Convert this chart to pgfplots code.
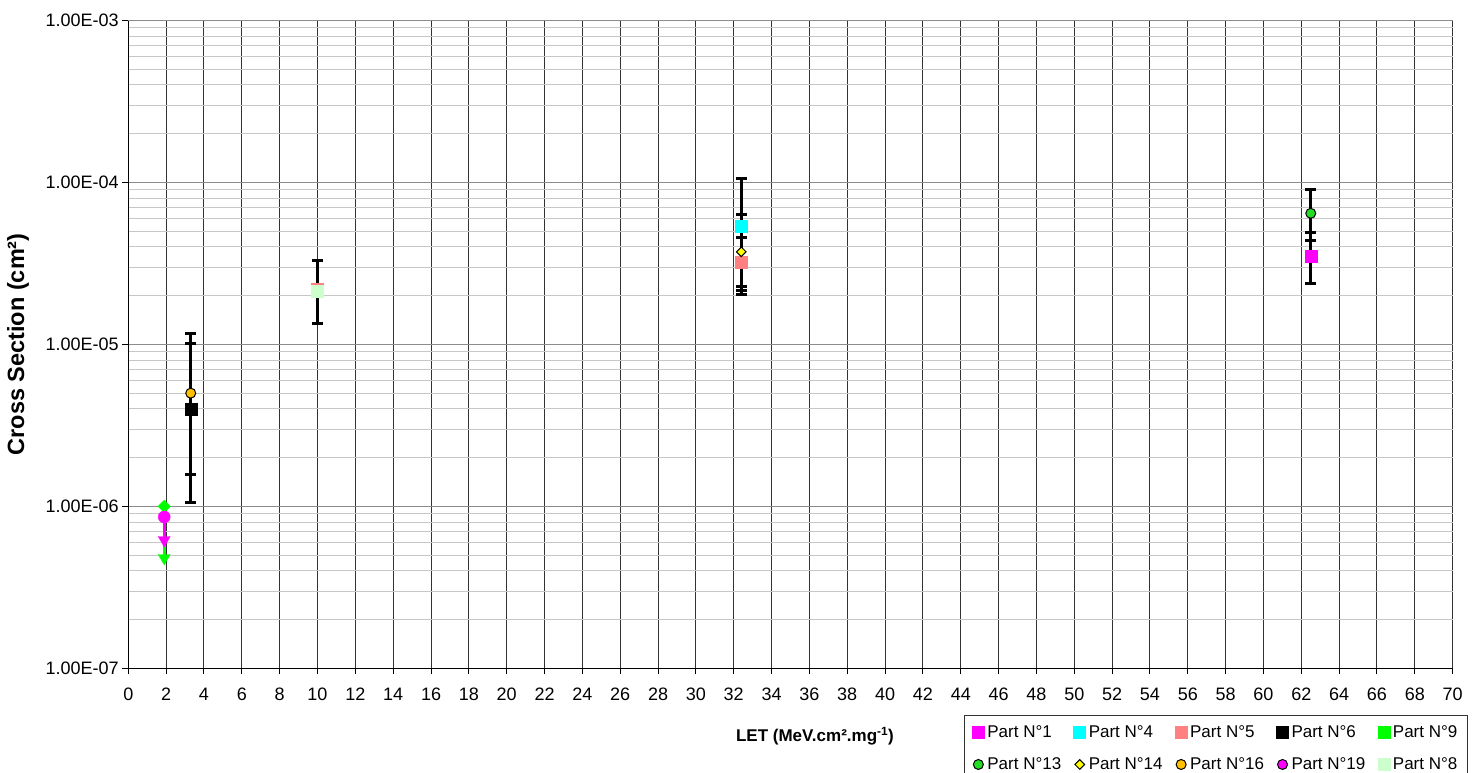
\documentclass[border=0pt]{standalone}
\usepackage{pgfplots}
\pgfplotsset{compat=1.18}
\usepackage{fontspec}
\setmainfont{Liberation Sans}

\definecolor{cmag}{HTML}{FF00FF}
\definecolor{ccyan}{HTML}{00FFFF}
\definecolor{csalmon}{HTML}{FF8080}
\definecolor{cgreen}{HTML}{00FF00}
\definecolor{cgreenb}{HTML}{22DD22}
\definecolor{cyellow}{HTML}{FFFF00}
\definecolor{cgold}{HTML}{FFC000}
\definecolor{cpale}{HTML}{CCFFCC}

\pgfplotsset{
  errbar/.style={black, line width=3pt, mark=-, mark size=5.3pt,
    mark options={line width=3pt, solid}, forget plot},
  pt/.style={only marks, forget plot},
}

\begin{document}
\begin{tikzpicture}
\begin{axis}[
  at={(128.3pt,103.7pt)}, anchor=south west,
  scale only axis, width=1324.4pt, height=647.8pt,
  xmin=0, xmax=70, ymin=1e-7, ymax=1e-3, ymode=log,
  axis x line*=bottom, axis y line*=left,
  axis line style={-, black, line width=1.2pt},
  xtick={0,2,...,70},
  ytick={1e-7,1e-6,1e-5,1e-4,1e-3},
  yticklabels={1.00E-07,1.00E-06,1.00E-05,1.00E-04,1.00E-03},
  minor ytick={2e-7,3e-7,4e-7,5e-7,6e-7,7e-7,8e-7,9e-7,
               2e-6,3e-6,4e-6,5e-6,6e-6,7e-6,8e-6,9e-6,
               2e-5,3e-5,4e-5,5e-5,6e-5,7e-5,8e-5,9e-5,
               2e-4,3e-4,4e-4,5e-4,6e-4,7e-4,8e-4,9e-4},
  xmajorgrids, ymajorgrids, yminorgrids,
  major x grid style={black!80, line width=1pt},
  major y grid style={black!45, line width=1pt},
  minor y grid style={black!22, line width=1pt},
  tick align=outside, major tick length=6pt, minor tick length=0pt,
  tick style={black, line width=1pt},
  /pgf/number format/assume math mode=true,
  ticklabel style={font=\fontsize{18}{21}\selectfont},
  xticklabel style={yshift=-10pt},
  xlabel={LET (MeV.cm².mg\textsuperscript{-1})},
  xlabel style={at={(axis description cs:0.5185,-0.1045)}, anchor=center,
    font=\bfseries\fontsize{17}{20}\selectfont},
  ylabel={Cross Section (cm²)},
  ylabel style={at={(axis description cs:-0.0833,0.5)}, anchor=center,
    font=\bfseries\fontsize{23.5}{26}\selectfont},
  clip=false,
  legend columns=5,
  legend image code/.code={\draw[#1] plot coordinates {(6pt,0pt)};},
  legend style={at={(axis description cs:0.631,-0.0721)}, anchor=north west,
    draw=black!80, line width=0.8pt, fill=white,
    font=\fontsize{17}{20}\selectfont,
    inner xsep=8pt, inner ysep=8pt, row sep=15pt,
    /tikz/every even column/.append style={column sep=10.5pt},
    /tikz/every odd column/.append style={column sep=1pt},
    legend cell align=left},
]

% error bars
\addplot[errbar] coordinates {(3.3,1.58e-6) (3.3,1.02e-5)};
\addplot[errbar] coordinates {(3.3,1.06e-6) (3.3,1.16e-5)};
\addplot[errbar] coordinates {(10,1.34e-5) (10,3.32e-5)};
\addplot[errbar] coordinates {(32.4,2.27e-5) (32.4,1.06e-4)};
\addplot[errbar] coordinates {(32.4,2.14e-5) (32.4,6.36e-5)};
\addplot[errbar] coordinates {(32.4,2.02e-5) (32.4,4.56e-5)};
\addplot[errbar] coordinates {(62.5,4.37e-5) (62.5,9.1e-5)};
\addplot[errbar] coordinates {(62.5,2.38e-5) (62.5,4.92e-5)};

% upper limits at LET 1.9
\addplot[cgreen, line width=2.7pt, forget plot] coordinates {(1.9,1e-6) (1.9,4.8e-7)};
\addplot[pt, mark=square*, mark size=4.4pt, cgreen, mark options={rotate=45}]
  coordinates {(1.9,1e-6)};
\addplot[pt, mark=triangle*, mark size=6.9pt, cgreen, mark options={rotate=180}]
  coordinates {(1.9,4.8e-7)};
\addplot[cmag, line width=2.7pt, forget plot] coordinates {(1.9,8.6e-7) (1.9,6.2e-7)};
\addplot[pt, mark=*, mark size=6pt, cmag] coordinates {(1.9,8.6e-7)};
\addplot[pt, mark=triangle*, mark size=6.9pt, cmag, mark options={rotate=180}]
  coordinates {(1.9,6.2e-7)};

% measured points
\addplot[pt, mark=square*, mark size=6pt, black] coordinates {(3.3,4e-6)};
\addplot[pt, mark=*, mark size=5pt, draw=black, fill=cgold, line width=1pt] coordinates {(3.3,5e-6)};
\addplot[pt, mark=square*, mark size=6pt, csalmon] coordinates {(10,2.2e-5)};
\addplot[pt, mark=square*, mark size=6pt, cpale] coordinates {(10,2.13e-5)};
\addplot[pt, mark=square*, mark size=6pt, ccyan] coordinates {(32.4,5.4e-5)};
\addplot[pt, mark=square*, mark size=6pt, csalmon] coordinates {(32.4,3.2e-5)};
\addplot[pt, mark=square*, mark size=3.4pt, draw=black, fill=cyellow, line width=1pt,
  mark options={rotate=45}] coordinates {(32.4,3.73e-5)};
\addplot[pt, mark=square*, mark size=6pt, cmag] coordinates {(62.5,3.53e-5)};
\addplot[pt, mark=*, mark size=5pt, draw=black, fill=cgreenb, line width=1pt] coordinates {(62.5,6.45e-5)};

% legend
\addlegendimage{mark=square*, mark size=6pt, cmag}
\addlegendentry{Part N°1}
\addlegendimage{mark=square*, mark size=6pt, ccyan}
\addlegendentry{Part N°4}
\addlegendimage{mark=square*, mark size=6pt, csalmon}
\addlegendentry{Part N°5}
\addlegendimage{mark=square*, mark size=6pt, black}
\addlegendentry{Part N°6}
\addlegendimage{mark=square*, mark size=6pt, cgreen}
\addlegendentry{Part N°9}
\addlegendimage{mark=*, mark size=5pt, draw=black, fill=cgreenb, line width=1pt}
\addlegendentry{Part N°13}
\addlegendimage{mark=square*, mark size=3.4pt, draw=black, fill=cyellow, line width=1pt, mark options={rotate=45}}
\addlegendentry{Part N°14}
\addlegendimage{mark=*, mark size=5pt, draw=black, fill=cgold, line width=1pt}
\addlegendentry{Part N°16}
\addlegendimage{mark=*, mark size=5pt, draw=black, fill=cmag, line width=1pt}
\addlegendentry{Part N°19}
\addlegendimage{mark=square*, mark size=6pt, cpale}
\addlegendentry{Part N°8}
\end{axis}
\pgfresetboundingbox
\path[use as bounding box] (0,0) rectangle (1481pt,772pt);
\end{tikzpicture}
\end{document}
